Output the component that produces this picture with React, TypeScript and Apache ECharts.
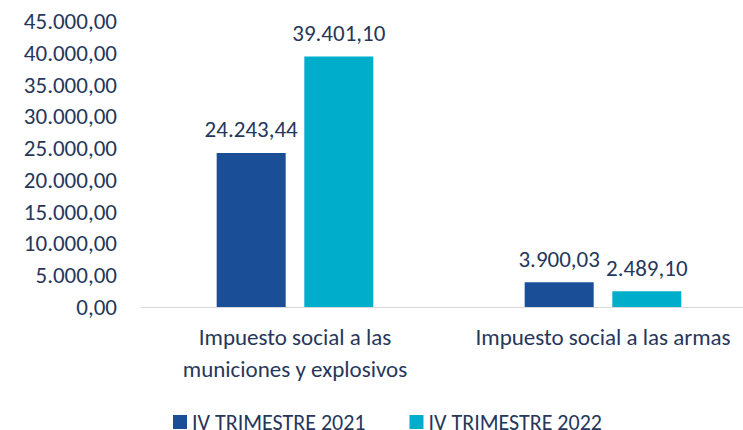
import React, { useEffect, useRef } from "react";
import * as echarts from "echarts";

const categories = ["Impuesto social a las\nmuniciones y explosivos", "Impuesto social a las armas"];
const seriesNames = ["IV TRIMESTRE 2021", "IV TRIMESTRE 2022"];
const values2021 = [24243.44, 3900.03];
const values2022 = [39401.1, 2489.1];
const yMin = 0;
const yMax = 45000;
const yInterval = 5000;

const FONT = "Carlito, Lato, 'Open Sans', sans-serif";
const TEXT = "#26375A";
const FS = 23;

function fmt(v: number): string {
  const fixed = v.toFixed(2);
  const [intPart, dec] = fixed.split(".");
  const withDots = intPart.replace(/\B(?=(\d{3})+(?!\d))/g, ".");
  return withDots + "," + dec;
}

export default function App() {
  const ref = useRef<HTMLDivElement>(null);
  useEffect(() => {
    if (!ref.current) return;
    const chart = echarts.init(ref.current, undefined, { renderer: "svg" });
    const labelStyle = {
      show: true,
      position: "top" as const,
      distance: 12,
      color: TEXT,
      fontSize: FS,
      fontFamily: FONT,
      formatter: (p: any) => fmt(p.value),
    };
    chart.setOption({
      animation: false,
      backgroundColor: "#ffffff",
      grid: {
        left: 141,
        top: 21,
        width: 616,
        height: 286,
        containLabel: false,
        outerBoundsMode: "none",
      },
      legend: {
        left: 173,
        top: 411,
        padding: 0,
        itemWidth: 14,
        itemHeight: 14,
        itemGap: 44,
        icon: "rect",
        textStyle: { color: TEXT, fontSize: 22, fontFamily: FONT, lineHeight: 18 },
        data: seriesNames,
      },
      xAxis: {
        type: "category",
        data: categories,
        axisLine: { show: true, lineStyle: { color: "#D9D9D9", width: 1 } },
        axisTick: { show: false },
        axisLabel: {
          color: TEXT,
          fontSize: FS,
          fontFamily: FONT,
          lineHeight: 32,
          margin: 14,
          interval: 0,
        },
      },
      yAxis: {
        type: "value",
        min: yMin,
        max: yMax,
        interval: yInterval,
        splitLine: { show: false },
        axisLine: { show: false },
        axisTick: { show: false },
        axisLabel: {
          color: TEXT,
          fontSize: FS,
          fontFamily: FONT,
          margin: 24,
          formatter: (v: number) => fmt(v),
        },
      },
      series: [
        {
          name: seriesNames[0],
          type: "bar",
          data: values2021,
          barWidth: 69,
          barGap: "27%",
          itemStyle: { color: "#1A4E97" },
          label: labelStyle,
        },
        {
          name: seriesNames[1],
          type: "bar",
          data: values2022,
          barWidth: 69,
          barGap: "27%",
          itemStyle: { color: "#00AECB" },
          label: labelStyle,
        },
      ],
    });
    return () => chart.dispose();
  }, []);
  return <div ref={ref} style={{ width: 743, height: 430, position: "absolute", left: 0, top: 0 }} />;
}
